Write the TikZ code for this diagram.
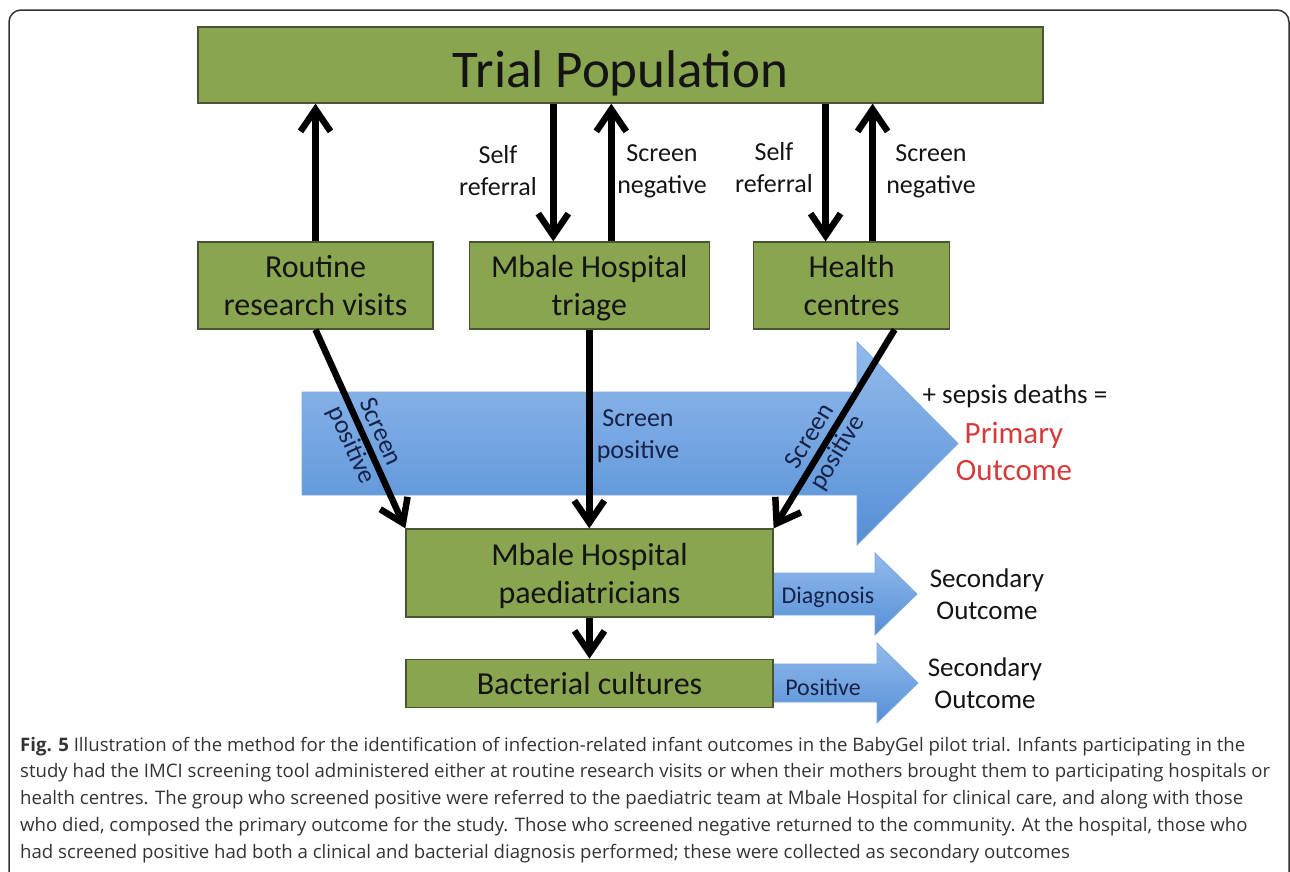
\documentclass[tikz,border=0pt]{standalone}
\usepackage{fontspec}
\setmainfont{Carlito}
\newfontfamily\capfont{Open Sans}
\usetikzlibrary{arrows.meta}
\usetikzlibrary{positioning}
\definecolor{boxGreen}{RGB}{138,165,79}
\definecolor{boxEdge}{RGB}{72,84,52}
\definecolor{arrowTop}{RGB}{146,187,236}
\definecolor{arrowBot}{RGB}{86,143,214}
\definecolor{arrowEdge}{RGB}{125,168,222}
\definecolor{onBlue}{RGB}{22,34,72}
\definecolor{outRed}{RGB}{214,58,58}
\definecolor{capGray}{RGB}{51,51,51}
\tikzset{
	greenBox/.style={rectangle, draw=boxEdge, line width=1.3pt, fill=boxGreen, align=center,
		inner sep=0pt, text depth=0pt, font=\fontsize{32}{38}\selectfont, text=black!92},
	blueArrow/.style={draw=arrowEdge, line width=0.8pt, top color=arrowTop, bottom color=arrowBot},
	flow/.style={line width=6.5pt, -{Straight Barb[length=22pt,width=30pt]}},
}
\begin{document}
\begin{tikzpicture}[x=1pt, y=-1pt,
		lbl/.style={align=center, font=\fontsize{26}{32}\selectfont, text=black!92},
		node distance = 35pt and 35pt]
	
	% fix the page to the figure panel
	\useasboundingbox (0,0) rectangle (1290,871);
	\draw[black!80, line width=1.5pt, rounded corners=12pt] (9,10) rectangle (1289,900);
	
	% outcome arrows - drawn first so the black lines sit on top
	\path[blueArrow] (302,392) -- (857,392) -- (857,342) -- (958,443.5) -- (857,545) -- (857,495) -- (302,495) -- cycle;
	\path[blueArrow] (773,573) -- (875,573) -- (875,553) -- (917,594) -- (875,635) -- (875,615) -- (773,615) -- cycle;
	\path[blueArrow] (773,664) -- (877,664) -- (877,643) -- (918,683) -- (877,723) -- (877,702) -- (773,702) -- cycle;
	
	% top box
	\node[greenBox, minimum width=845pt, minimum height=76pt, text height=44pt, font=\fontsize{53}{60}\selectfont] (trialPop) at (620.5,65) {Trial Population};
	
	% entry points, left one at a coordinate, the others relative to it
	\node[greenBox, minimum width=235pt, minimum height=87pt] (routine) at (315.5,285.5) {Routine\\research visits};
	\node[greenBox, minimum width=240pt, minimum height=87pt, right = 35pt of routine] (triage) {Mbale Hospital\\triage};
	\node[greenBox, minimum width=196pt, minimum height=87pt, right = 43pt of triage] (health) {Health\\centres};
	
	% hospital boxes
	\node[greenBox, minimum width=367pt, minimum height=88pt] (paed) at (589.5,573) {Mbale Hospital\\paediatricians};
	\node[greenBox, minimum width=367pt, minimum height=48pt, below = 41pt of paed] (bact) {Bacterial cultures};
	
	% links to and from the trial population
	\draw[flow] (routine.north) -- (routine.north |- trialPop.south);
	\draw[flow] ([xshift=-36pt]triage.north |- trialPop.south) -- ([xshift=-36pt]triage.north);
	\draw[flow] ([xshift=22pt]triage.north) -- ([xshift=22pt]triage.north |- trialPop.south);
	\draw[flow] ([xshift=-26pt]health.north |- trialPop.south) -- ([xshift=-26pt]health.north);
	\draw[flow] ([xshift=21pt]health.north) -- ([xshift=21pt]health.north |- trialPop.south);
	
	\node[lbl] (selfTriage) at (498,171) {Self\\referral};
	\node[lbl] (negTriage) at (662,171) {Screen\\negative};
	\node[lbl] (selfHealth) at (774,168) {Self\\referral};
	\node[lbl] (negHealth) at (931,171) {Screen\\negative};
	
	% screen positive referrals
	\draw[flow] (routine.south) -- (paed.north west)
		node[lbl, text=onBlue, pos=0.55, sloped] (posRoutine) {Screen\\positive};
	\draw[flow] (triage.south) -- (triage.south |- paed.north);
	\node[lbl, text=onBlue] (posTriage) at (638,436) {Screen\\positive};
	\draw[flow] ([xshift=43pt]health.south) -- (paed.north east)
		node[lbl, text=onBlue, pos=0.58, sloped] (posHealth) {Screen\\positive};
	\draw[flow] (paed.south) -- (bact.north);
	
	% outcome texts
	\node[lbl, font=\fontsize{27}{32}\selectfont] (sepsis) at (1015,396) {+ sepsis deaths =};
	\node[lbl, font=\fontsize{31}{37}\selectfont, text=outRed] (primary) at (1014,451) {Primary\\Outcome};
	\node[lbl, font=\fontsize{24}{29}\selectfont, text=onBlue] (diagLbl) at (828,597) {Diagnosis};
	\node[lbl, font=\fontsize{27}{32}\selectfont] (secDiag) at (987,594) {Secondary\\Outcome};
	\node[lbl, font=\fontsize{24}{29}\selectfont, text=onBlue] (posLbl) at (823,687) {Positive};
	\node[lbl, font=\fontsize{27}{32}\selectfont] (secBact) at (985,683) {Secondary\\Outcome};
	
	% caption, one node per line
	\foreach \capLine [count=\i] in {
		{\textbf{Fig. 5} Illustration of the method for the identification of infection-related infant outcomes in the BabyGel pilot trial. Infants participating in the},
		{study had the IMCI screening tool administered either at routine research visits or when their mothers brought them to participating hospitals or},
		{health centres. The group who screened positive were referred to the paediatric team at Mbale Hospital for clinical care, and along with those},
		{who died, composed the primary outcome for the study. Those who screened negative returned to the community. At the hospital, those who},
		{had screened positive had both a clinical and bacterial diagnosis performed; these were collected as secondary outcomes}}
	{
		\node[anchor=base west, inner sep=0pt, text=capGray, font=\capfont\fontsize{18.6}{22}\selectfont] (cap\i) at (20,{751+26.75*(\i-1)}) {\capLine};
	}
	
\end{tikzpicture}
\end{document}
